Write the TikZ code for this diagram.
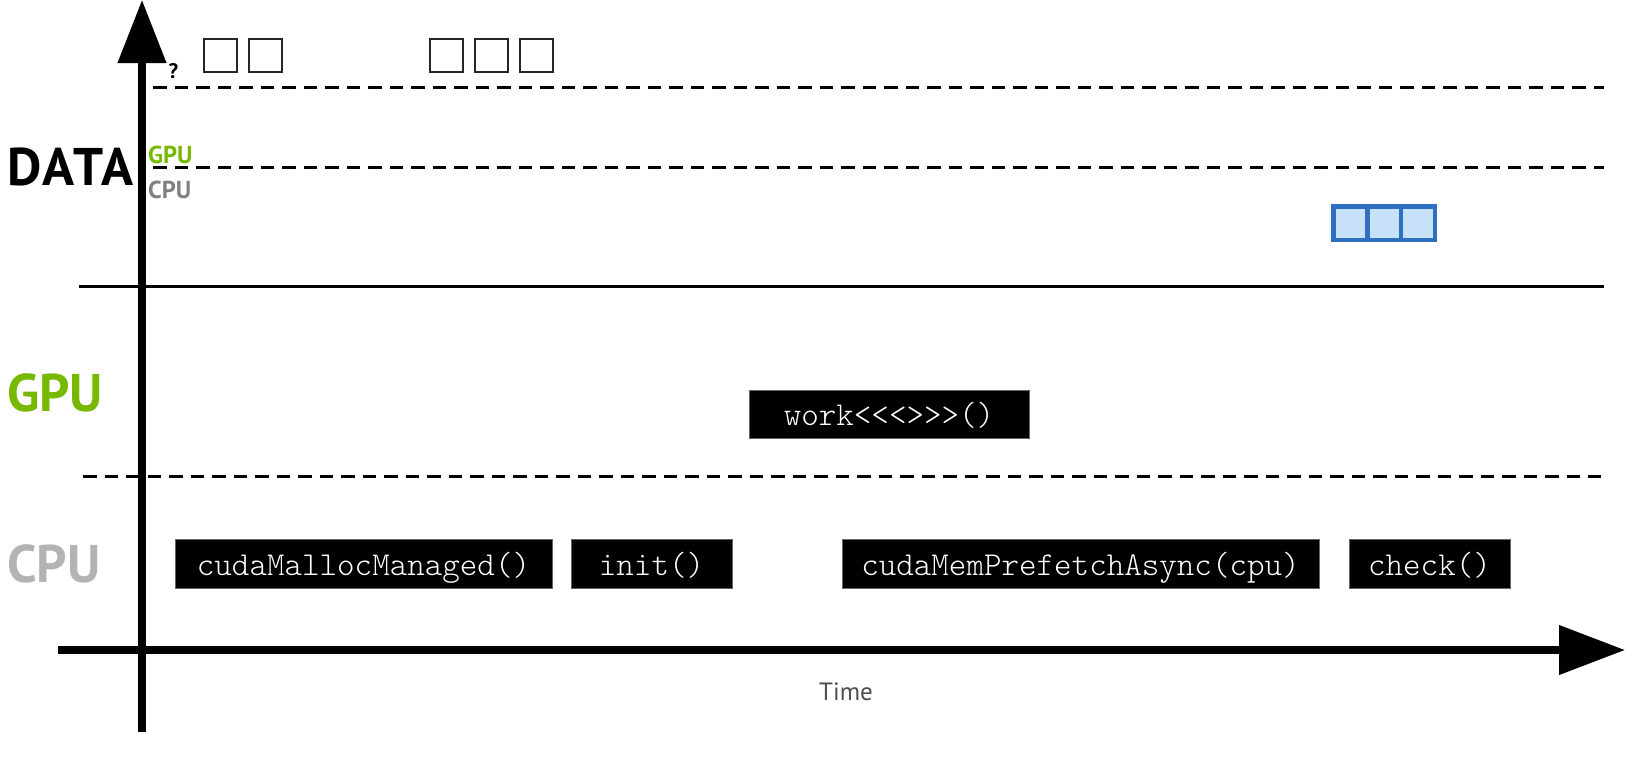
\documentclass[tikz,border=0pt]{standalone}
\usepackage{fontspec}
\setsansfont{PT Sans}
\setmonofont{Latin Modern Mono Light}
\usetikzlibrary{arrows.meta}
\definecolor{gpugreen}{RGB}{118,185,0}
\definecolor{cpugray}{RGB}{179,179,179}
\definecolor{cpusmall}{RGB}{128,128,128}
\definecolor{timegray}{RGB}{77,77,77}
\definecolor{bstroke}{RGB}{46,111,191}
\definecolor{bfill}{RGB}{199,225,248}
\begin{document}
\begin{tikzpicture}[x=1pt,y=-1pt,
  axisline/.style={line width=7.5pt},
  sepline/.style={line width=3pt, dash pattern=on 13.5pt off 8pt},
  callbox/.style={fill=black, draw=black!60, line width=0.8pt, text=white, minimum height=49pt, inner sep=0pt,
    text depth=0pt, font=\ttfamily\fontsize{33.4}{35}\selectfont},
  cell/.style={draw=black!85, line width=2pt, minimum size=33pt, inner sep=0pt},
  bcell/.style={draw=bstroke, fill=bfill, line width=4.5pt, minimum width=33.8pt, minimum height=33.5pt, inner sep=0pt},
  biglab/.style={inner sep=0pt, anchor=base west, font=\sffamily\bfseries\fontsize{53}{56}\selectfont},
  smalllab/.style={inner sep=0pt, anchor=base west, font=\sffamily\bfseries\fontsize{24.5}{26}\selectfont}
]
\useasboundingbox (0,0) rectangle (1652,764);

% separator lines
\coordinate (d1s) at (153,87.5);  \coordinate (d1e) at (1604,87.5);
\coordinate (d2s) at (153,167.5); \coordinate (d2e) at (1604,167.5);
\coordinate (ss)  at (79,286.6);  \coordinate (se)  at (1604,286.6);
\coordinate (d3s) at (83,476);    \coordinate (d3e) at (1601,476);
\draw[sepline] (d1s) -- (d1e);
\draw[sepline] (d2s) -- (d2e);
\draw[line width=2.5pt] (ss) -- (se);
\draw[sepline] (d3s) -- (d3e);

% axes
\coordinate (ybot) at (142,732);
\coordinate (ytop) at (142,0);
\coordinate (xl) at (58,650);
\coordinate (xr) at (1625,650);
\draw[axisline, -{Triangle[length=63pt,width=47pt]}] (ybot) -- (ytop);
\draw[axisline, -{Triangle[length=66pt,width=48pt]}] (xl) -- (xr);

% labels
\node[biglab] (data) at (7,185) {\addfontfeature{LetterSpace=5}DATA};
\node[biglab, text=gpugreen] (gpu) at (7,411) {GPU};
\node[biglab, text=cpugray] (cpu) at (7,582) {CPU};
\node[smalllab, text=gpugreen] (sgpu) at (148,163.5) {GPU};
\node[smalllab, text=cpusmall] (scpu) at (148,198) {CPU};
\node[inner sep=0pt, anchor=base, font=\sffamily\bfseries\fontsize{21}{22}\selectfont] (q) at (173.5,78) {?};
\node[inner sep=0pt, anchor=base, text=timegray, font=\sffamily\fontsize{25}{27}\selectfont] (time) at (846,700) {Time};

% top empty cells
\node[cell] (t1) at (220,55) {};
\node[cell] (t2) at (265.5,55) {};
\node[cell] (t3) at (446.5,55) {};
\node[cell] (t4) at (491.5,55) {};
\node[cell] (t5) at (536.5,55) {};

% blue cells (shared borders)
\node[bcell] (b1) at (1350.4,223) {};
\node[bcell] (b2) at (1384.2,223) {};
\node[bcell] (b3) at (1418,223) {};

% call boxes
\node[callbox, minimum width=280pt, minimum height=48pt] (work) at (889,414) {work<<<>>>()};
\node[callbox, minimum width=377pt] (malloc) at (363.5,564) {cudaMallocManaged()};
\node[callbox, minimum width=161pt] (init) at (651.5,564) {init()};
\node[callbox, minimum width=477pt] (prefetch) at (1080.5,564) {cudaMemPrefetchAsync(cpu)};
\node[callbox, minimum width=161pt] (check) at (1429.5,564) {check()};
\end{tikzpicture}
\end{document}
